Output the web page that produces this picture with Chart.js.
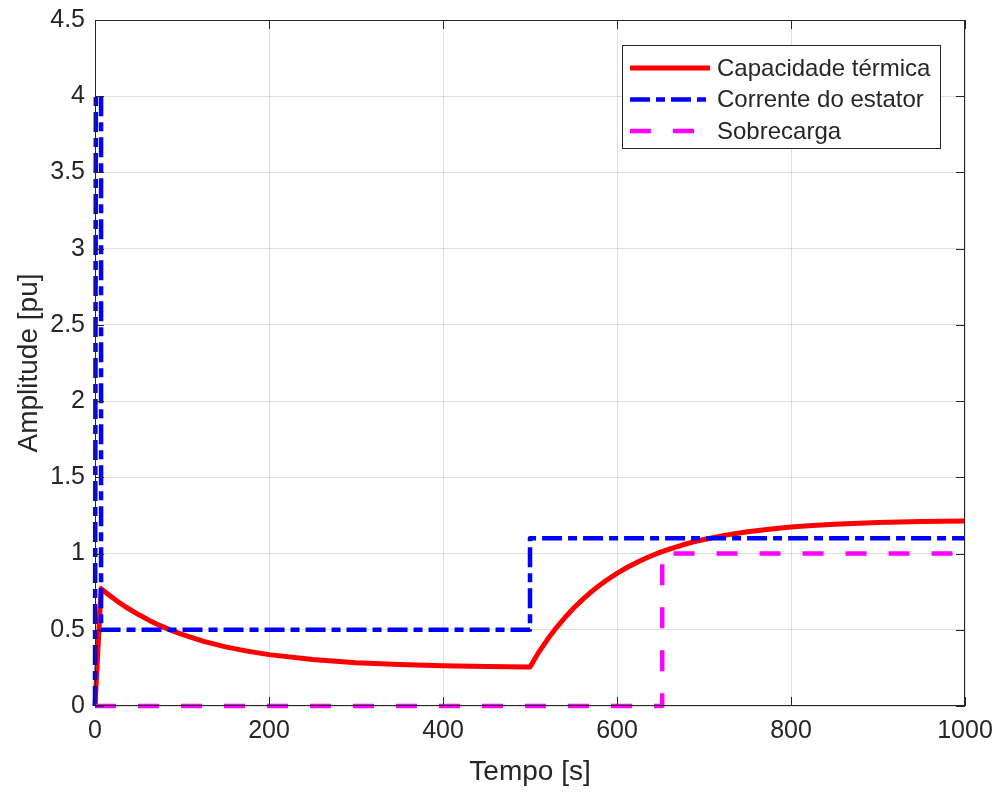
<!DOCTYPE html>
<html>
<head>
<meta charset="utf-8">
<script src="https://cdn.jsdelivr.net/npm/chart.js@4/dist/chart.umd.min.js"></script>
<style>
  html, body { margin: 0; padding: 0; background: #fff; }
  #wrap { width: 997px; height: 792px; }
</style>
</head>
<body>
<div id="wrap"><canvas id="chart"></canvas></div>
<script>
// values
const seriesLabels = ["Capacidade térmica", "Corrente do estator", "Sobrecarga"];

const thermalT = [0, 7, 15, 25, 35, 50, 62, 75, 87, 100, 125, 150, 175, 200, 250, 300, 350, 400, 450, 500,
  510, 520, 530, 540, 550, 560, 570, 580, 590, 600, 612, 625, 637, 650, 662, 675, 687, 700,
  725, 750, 775, 800, 825, 850, 900, 950, 1000];
const thermalV = [0, 0.77, 0.733, 0.69, 0.651, 0.60, 0.563, 0.527, 0.498, 0.47, 0.424, 0.388, 0.36, 0.337, 0.305, 0.284, 0.272, 0.264, 0.259, 0.256,
  0.352, 0.436, 0.511, 0.579, 0.641, 0.696, 0.747, 0.792, 0.833, 0.87, 0.91, 0.948, 0.979, 1.009, 1.033, 1.056, 1.075, 1.092,
  1.121, 1.143, 1.16, 1.174, 1.184, 1.192, 1.203, 1.21, 1.214];

const currentT = [0, 1, 7, 7, 500, 500, 1000];
const currentV = [0, 4, 4, 0.5, 0.5, 1.1, 1.1];

const overloadT = [0, 652, 652, 1000];
const overloadV = [0, 0, 1, 1];

const xTicks = [0, 200, 400, 600, 800, 1000];
const yTicks = [0, 0.5, 1, 1.5, 2, 2.5, 3, 3.5, 4, 4.5];

const textColor = "#262626";
const gridColor = "rgba(38,38,38,0.15)";
const fontFamily = "'Liberation Sans', Arial, sans-serif";

const toPoints = (ts, vs) => ts.map((t, i) => ({ x: t, y: vs[i] }));

const styles = [
  { color: "#ff0000", width: 5, dash: [] },
  { color: "#0000ff", width: 4.5, dash: [20, 6, 9, 6] },
  { color: "#ff00ff", width: 4.5, dash: [21, 22] },
];

// box, inward ticks and the legend, drawn like the MATLAB axes
const axesBox = {
  id: "axesBox",
  afterDraw(chart) {
    const { ctx, chartArea: a, scales } = chart;
    ctx.save();
    ctx.strokeStyle = textColor;
    ctx.lineWidth = 1;
    ctx.strokeRect(a.left + 0.5, a.top + 0.5, a.right - a.left - 1, a.bottom - a.top - 1);

    ctx.beginPath();
    xTicks.forEach(v => {
      const px = Math.round(scales.x.getPixelForValue(v)) + 0.5;
      ctx.moveTo(px, a.bottom); ctx.lineTo(px, a.bottom - 9);
      ctx.moveTo(px, a.top); ctx.lineTo(px, a.top + 9);
    });
    yTicks.forEach(v => {
      const py = Math.round(scales.y.getPixelForValue(v)) + 0.5;
      ctx.moveTo(a.left, py); ctx.lineTo(a.left + 9, py);
      ctx.moveTo(a.right, py); ctx.lineTo(a.right - 9, py);
    });
    ctx.stroke();

    // legend
    const lx = 622, ly = 45, lw = 318, lh = 103;
    ctx.fillStyle = "#fff";
    ctx.fillRect(lx, ly, lw, lh);
    ctx.strokeStyle = textColor;
    ctx.strokeRect(lx + 0.5, ly + 0.5, lw, lh);
    ctx.font = "24px " + fontFamily;
    ctx.textBaseline = "middle";
    seriesLabels.forEach((label, i) => {
      const y = ly + 23 + i * 31.5;
      const s = styles[i];
      ctx.beginPath();
      ctx.setLineDash(s.dash);
      ctx.strokeStyle = s.color;
      ctx.lineWidth = s.width;
      ctx.moveTo(lx + 8, y); ctx.lineTo(lx + 88, y);
      ctx.stroke();
      ctx.setLineDash([]);
      ctx.fillStyle = textColor;
      ctx.fillText(label, lx + 95, y + 1);
    });
    ctx.restore();
  }
};

const series = [toPoints(thermalT, thermalV), toPoints(currentT, currentV), toPoints(overloadT, overloadV)];

new Chart(document.getElementById("chart"), {
  type: "line",
  data: {
    datasets: series.map((pts, i) => ({
      label: seriesLabels[i],
      data: pts,
      borderColor: styles[i].color,
      borderWidth: styles[i].width,
      borderDash: styles[i].dash,
      borderCapStyle: "butt",
      borderJoinStyle: "round",
      pointRadius: 0,
      tension: 0,
      fill: false,
      clip: false,
      order: 3 - i,
    })),
  },
  options: {
    responsive: true,
    maintainAspectRatio: false,
    animation: false,
    layout: { padding: { top: 20, right: 32, left: 0, bottom: 0 } },
    plugins: { legend: { display: false }, tooltip: { enabled: false } },
    scales: {
      x: {
        type: "linear",
        min: 0, max: 1000,
        afterBuildTicks: s => { s.ticks = xTicks.map(v => ({ value: v })); },
        afterFit: s => { s.height = 86; s.paddingLeft = 0; s.paddingRight = 0; },
        grid: { color: gridColor, drawTicks: false },
        border: { display: false },
        ticks: {
          color: textColor, padding: 10,
          font: { family: fontFamily, size: 25 },
          callback: v => String(v),
        },
        title: {
          display: true, text: "Tempo [s]", color: textColor,
          font: { family: fontFamily, size: 28 }, padding: { top: 0, bottom: 3 },
        },
      },
      y: {
        type: "linear",
        min: 0, max: 4.5,
        afterBuildTicks: s => { s.ticks = yTicks.map(v => ({ value: v })); },
        afterFit: s => { s.width = 95; s.paddingTop = 0; s.paddingBottom = 0; },
        grid: { color: gridColor, drawTicks: false },
        border: { display: false },
        ticks: {
          color: textColor, padding: 10,
          font: { family: fontFamily, size: 25 },
          callback: v => String(v),
        },
        title: {
          display: true, text: "Amplitude [pu]", color: textColor,
          font: { family: fontFamily, size: 28 }, padding: { top: 12, bottom: 0 },
        },
      },
    },
  },
  plugins: [axesBox],
});
</script>
</body>
</html>
